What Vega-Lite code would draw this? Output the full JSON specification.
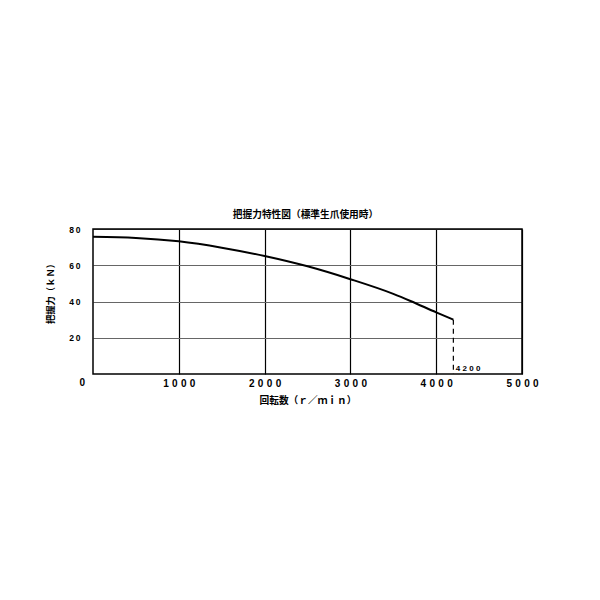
{
  "$schema": "https://vega.github.io/schema/vega-lite/v6.json",
  "width": 429,
  "height": 145,
  "autosize": "none",
  "padding": {"left": 93, "top": 229, "right": 78, "bottom": 226},
  "background": "white",
  "title": {"text": "把握力特性図（標準生爪使用時）", "font": "Noto Sans CJK JP", "fontSize": 9.7, "fontWeight": "bold", "color": "#000", "offset": 5, "anchor": "middle", "dx": -2},
  "config": {"view": {"stroke": null}},
  "datasets": {
    "curve": [
      {"rpm": 0, "kN": 75.7},
      {"rpm": 500, "kN": 75.1},
      {"rpm": 1000, "kN": 73.2},
      {"rpm": 1500, "kN": 69.7},
      {"rpm": 2000, "kN": 65.1},
      {"rpm": 2500, "kN": 59.4},
      {"rpm": 3000, "kN": 52.3},
      {"rpm": 3500, "kN": 44.2},
      {"rpm": 3700, "kN": 40.3},
      {"rpm": 4000, "kN": 34.0},
      {"rpm": 4200, "kN": 30.0}
    ],
    "limit": [
      {"rpm": 4200, "kN": 30.0},
      {"rpm": 4200, "kN": 0}
    ],
    "notes": [
      {"rpm": 4200, "kN": 0, "label": "4 2 0 0"}
    ],
    "origin": [
      {"rpm": 0, "kN": 0, "label": "0"}
    ]
  },
  "layer": [
    {
      "data": {"name": "curve"},
      "mark": {"type": "line", "color": "#000", "strokeWidth": 2, "interpolate": "monotone", "clip": true},
      "encoding": {
        "x": {
          "field": "rpm", "type": "quantitative",
          "scale": {"domain": [0, 5000], "nice": false},
          "axis": {
            "values": [1000, 2000, 3000, 4000, 5000],
            "format": "d",
            "labelExpr": "join(split(datum.label, ''), '\u2004')",
            "title": "回転数（ｒ／ｍｉｎ）",
            "titleFont": "Noto Sans CJK JP", "titleFontSize": 9.7, "titleFontWeight": "bold", "titleColor": "#000",
            "titlePadding": 7,
            "labelFont": "Liberation Sans", "labelFontSize": 10, "labelFontWeight": "bold", "labelColor": "#000",
            "labelPadding": 4,
            "labelFlush": false,
            "ticks": false,
            "domain": false,
            "grid": true, "gridColor": "#000", "gridWidth": 1.2, "gridOpacity": 1
          }
        },
        "y": {
          "field": "kN", "type": "quantitative",
          "scale": {"domain": [0, 80], "nice": false},
          "axis": {
            "values": [20, 40, 60, 80],
            "labelExpr": "join(split(datum.label, ''), '\u2009')",
            "title": "把握力（ｋＮ）",
            "titleFont": "Noto Sans CJK JP", "titleFontSize": 9.3, "titleFontWeight": "bold", "titleColor": "#000",
            "titlePadding": 13,
            "titleY": 62,
            "labelFont": "Liberation Sans", "labelFontSize": 8.5, "labelFontWeight": "bold", "labelColor": "#000",
            "labelPadding": 13,
            "ticks": false,
            "domain": false,
            "grid": true, "gridColor": "#666", "gridWidth": 1.2, "gridOpacity": 1
          }
        }
      }
    },
    {
      "data": {"name": "limit"},
      "mark": {"type": "line", "color": "#000", "strokeWidth": 1.2, "strokeDash": [5, 4]},
      "encoding": {
        "x": {"field": "rpm", "type": "quantitative"},
        "y": {"field": "kN", "type": "quantitative"}
      }
    },
    {
      "data": {"name": "notes"},
      "mark": {"type": "text", "align": "left", "baseline": "bottom", "dx": 2.5, "dy": -1.5, "font": "Liberation Sans", "fontSize": 8, "fontWeight": "bold", "color": "#000"},
      "encoding": {
        "x": {"field": "rpm", "type": "quantitative"},
        "y": {"field": "kN", "type": "quantitative"},
        "text": {"field": "label"}
      }
    },
    {
      "data": {"name": "origin"},
      "mark": {"type": "text", "align": "right", "baseline": "top", "dx": -8, "dy": 4, "font": "Liberation Sans", "fontSize": 10, "fontWeight": "bold", "color": "#000"},
      "encoding": {
        "x": {"field": "rpm", "type": "quantitative"},
        "y": {"field": "kN", "type": "quantitative"},
        "text": {"field": "label"}
      }
    },
    {
      "data": {"values": [{"a": 1}]},
      "mark": {"type": "rect", "fill": null, "stroke": "#000", "strokeWidth": 1.5},
      "encoding": {}
    }
  ]
}
